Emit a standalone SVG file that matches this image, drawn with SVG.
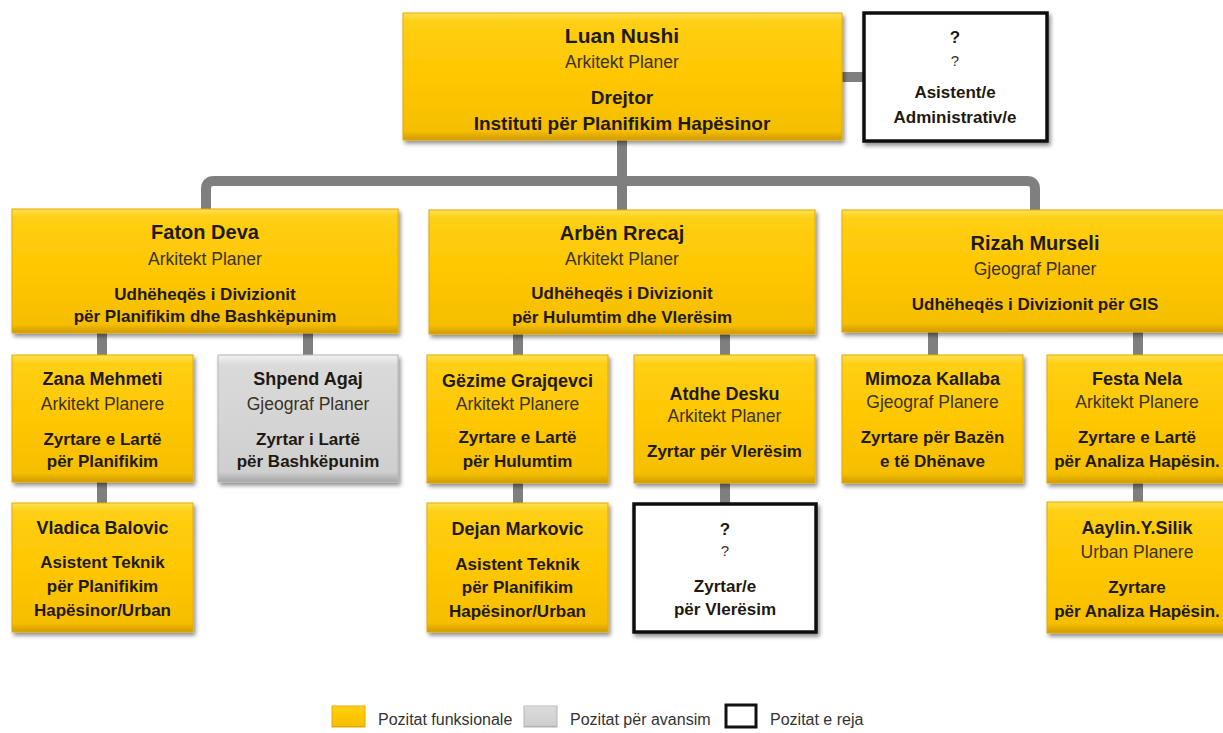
<svg xmlns="http://www.w3.org/2000/svg" width="1223" height="733" viewBox="0 0 1223 733">
<defs>
<linearGradient id="gy" x1="0" y1="0" x2="0" y2="1">
<stop offset="0" stop-color="#FFE150"/>
<stop offset="0.07" stop-color="#FFCF14"/>
<stop offset="0.5" stop-color="#FFC700"/>
<stop offset="0.93" stop-color="#F5BE00"/>
<stop offset="1" stop-color="#D09A00"/>
</linearGradient>
<linearGradient id="gg" x1="0" y1="0" x2="0" y2="1">
<stop offset="0" stop-color="#F2F2F2"/>
<stop offset="0.08" stop-color="#DADADA"/>
<stop offset="0.92" stop-color="#CFCFCF"/>
<stop offset="1" stop-color="#A6A6A6"/>
</linearGradient>
<filter id="sh" x="-10%" y="-10%" width="120%" height="130%">
<feGaussianBlur in="SourceAlpha" stdDeviation="2"/>
<feOffset dx="2" dy="3" result="b"/>
<feComponentTransfer><feFuncA type="linear" slope="0.45"/></feComponentTransfer>
<feMerge><feMergeNode/><feMergeNode in="SourceGraphic"/></feMerge>
</filter>
</defs>
<style>
.y{fill:url(#gy);stroke:#E3AA00;stroke-width:1;filter:url(#sh)}
.g{fill:url(#gg);stroke:#B5B5B5;stroke-width:1;filter:url(#sh)}
.w{fill:#FFFFFF;stroke:#111111;stroke-width:3.5;filter:url(#sh)}
text{font-family:"Liberation Sans",Arial,sans-serif;text-anchor:middle}
.b{font-weight:bold;fill:#1F1A0F}
.r{fill:#3A3322}
.n1{font-size:21px}
.n2{font-size:20px}
.n3{font-size:18px}
.s{font-size:17.5px}
.t1{font-size:19px}
.t{font-size:17px}
.q{font-size:15px}
.lg{font-size:16px;fill:#333333;text-anchor:start}
.c{fill:none;stroke:#7F7F7F;stroke-width:10}
</style>

<g id="connectors">
<path class="c" d="M842,77 H866"/>
<path class="c" d="M622,140 V211"/>
<path class="c" d="M206,210 V189 Q206,181 214,181 H1027 Q1035,181 1035,189 V211"/>
<path class="c" d="M102,333 V356 M308,333 V356 M102,482 V504"/>
<path class="c" d="M518,334 V356 M725,334 V356 M518,483 V504 M725,483 V504"/>
<path class="c" d="M933,332 V356 M1138,332 V356 M1138,483 V503"/>
</g>

<g id="luan-nushi">
<rect class="y" x="403" y="13" width="439" height="127"/>
<text class="b n1" x="622" y="43">Luan Nushi</text>
<text class="r s" x="622" y="68">Arkitekt Planer</text>
<text class="b t1" x="622" y="104">Drejtor</text>
<text class="b t1" x="622" y="130">Instituti për Planifikim Hapësinor</text>
</g>

<g id="asistent-administrativ">
<rect class="w" x="864" y="13" width="183" height="128"/>
<text class="b t" x="955" y="43">?</text>
<text class="r q" x="955" y="66">?</text>
<text class="b t" x="955" y="98">Asistent/e</text>
<text class="b t" x="955" y="123">Administrativ/e</text>
</g>

<g id="faton-deva">
<rect class="y" x="12" y="209" width="386" height="124"/>
<text class="b n2" x="205" y="239">Faton Deva</text>
<text class="r s" x="205" y="265">Arkitekt Planer</text>
<text class="b t" x="205" y="300">Udhëheqës i Divizionit</text>
<text class="b t" x="205" y="322">për Planifikim dhe Bashkëpunim</text>
</g>

<g id="arben-rrecaj">
<rect class="y" x="429" y="210" width="386" height="124"/>
<text class="b n2" x="622" y="240">Arbën Rrecaj</text>
<text class="r s" x="622" y="265">Arkitekt Planer</text>
<text class="b t" x="622" y="299">Udhëheqës i Divizionit</text>
<text class="b t" x="622" y="323">për Hulumtim dhe Vlerësim</text>
</g>

<g id="rizah-murseli">
<rect class="y" x="842" y="210" width="386" height="122"/>
<text class="b n2" x="1035" y="250">Rizah Murseli</text>
<text class="r s" x="1035" y="275">Gjeograf Planer</text>
<text class="b t" x="1035" y="310">Udhëheqës i Divizionit për GIS</text>
</g>

<g id="zana-mehmeti">
<rect class="y" x="12" y="355" width="181" height="127"/>
<text class="b n3" x="102.5" y="385">Zana Mehmeti</text>
<text class="r s" x="102.5" y="410">Arkitekt Planere</text>
<text class="b t" x="102.5" y="445">Zyrtare e Lartë</text>
<text class="b t" x="102.5" y="467">për Planifikim</text>
</g>

<g id="shpend-agaj">
<rect class="g" x="218" y="355" width="180" height="127"/>
<text class="b n3" x="308" y="385">Shpend Agaj</text>
<text class="r s" x="308" y="410">Gjeograf Planer</text>
<text class="b t" x="308" y="445">Zyrtar i Lartë</text>
<text class="b t" x="308" y="467">për Bashkëpunim</text>
</g>

<g id="vladica-balovic">
<rect class="y" x="12" y="503" width="181" height="129"/>
<text class="b n3" x="102.5" y="534">Vladica Balovic</text>
<text class="b t" x="102.5" y="568">Asistent Teknik</text>
<text class="b t" x="102.5" y="592">për Planifikim</text>
<text class="b t" x="102.5" y="616">Hapësinor/Urban</text>
</g>

<g id="gezime-grajqevci">
<rect class="y" x="427" y="355" width="181" height="128"/>
<text class="b n3" x="517.5" y="387">Gëzime Grajqevci</text>
<text class="r s" x="517.5" y="410">Arkitekt Planere</text>
<text class="b t" x="517.5" y="443">Zyrtare e Lartë</text>
<text class="b t" x="517.5" y="467">për Hulumtim</text>
</g>

<g id="atdhe-desku">
<rect class="y" x="634" y="355" width="181" height="128"/>
<text class="b n3" x="724.5" y="400">Atdhe Desku</text>
<text class="r s" x="724.5" y="422">Arkitekt Planer</text>
<text class="b t" x="724.5" y="457">Zyrtar për Vlerësim</text>
</g>

<g id="dejan-markovic">
<rect class="y" x="427" y="503" width="181" height="129"/>
<text class="b n3" x="517.5" y="535">Dejan Markovic</text>
<text class="b t" x="517.5" y="570">Asistent Teknik</text>
<text class="b t" x="517.5" y="593">për Planifikim</text>
<text class="b t" x="517.5" y="617">Hapësinor/Urban</text>
</g>

<g id="zyrtar-per-vleresim">
<rect class="w" x="634" y="504" width="182" height="128"/>
<text class="b t" x="725" y="535">?</text>
<text class="r q" x="725" y="556">?</text>
<text class="b t" x="725" y="592">Zyrtar/e</text>
<text class="b t" x="725" y="615">për Vlerësim</text>
</g>

<g id="mimoza-kallaba">
<rect class="y" x="842" y="355" width="181" height="128"/>
<text class="b n3" x="932.5" y="385">Mimoza Kallaba</text>
<text class="r s" x="932.5" y="408">Gjeograf Planere</text>
<text class="b t" x="932.5" y="443">Zyrtare për Bazën</text>
<text class="b t" x="932.5" y="467">e të Dhënave</text>
</g>

<g id="festa-nela">
<rect class="y" x="1047" y="355" width="181" height="128"/>
<text class="b n3" x="1137" y="385">Festa Nela</text>
<text class="r s" x="1137" y="408">Arkitekt Planere</text>
<text class="b t" x="1137" y="443">Zyrtare e Lartë</text>
<text class="b t" x="1137" y="467">për Analiza Hapësin.</text>
</g>

<g id="aaylin-silik">
<rect class="y" x="1047" y="502" width="181" height="131"/>
<text class="b n3" x="1137" y="534">Aaylin.Y.Silik</text>
<text class="r s" x="1137" y="558">Urban Planere</text>
<text class="b t" x="1137" y="593">Zyrtare</text>
<text class="b t" x="1137" y="617">për Analiza Hapësin.</text>
</g>

<g id="legend">
<rect class="y" x="332" y="706" width="33" height="21" style="filter:none"/>
<text class="lg" x="378" y="725">Pozitat funksionale</text>
<rect class="g" x="524" y="706" width="33" height="21" style="filter:none"/>
<text class="lg" x="570" y="725">Pozitat për avansim</text>
<rect x="726" y="705" width="30" height="22" fill="#FFFFFF" stroke="#111111" stroke-width="3"/>
<text class="lg" x="770" y="725">Pozitat e reja</text>
</g>
</svg>
